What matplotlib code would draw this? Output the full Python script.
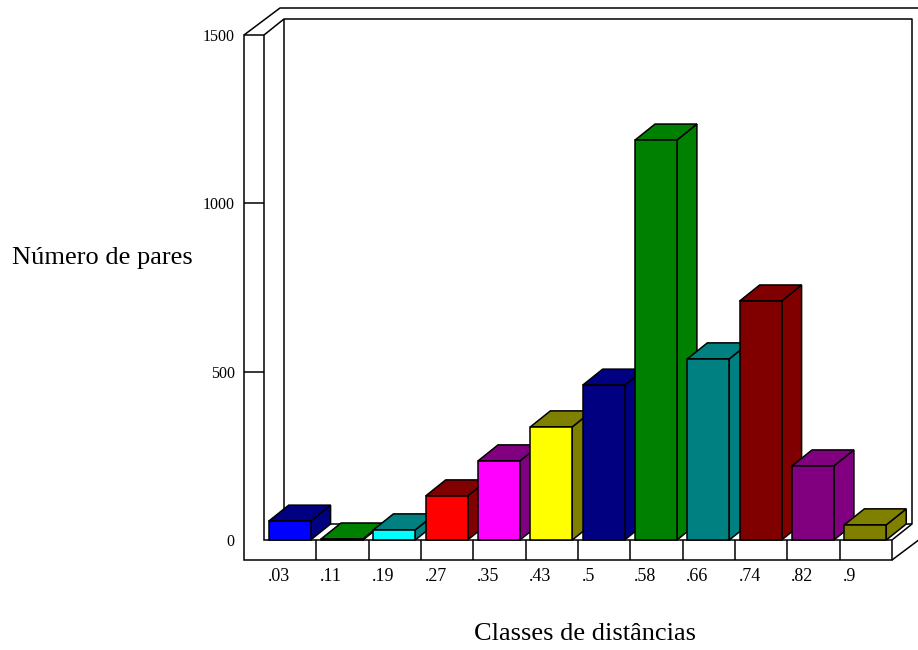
import numpy as np
import matplotlib.pyplot as plt
from matplotlib.patches import Polygon, Rectangle

# distance classes and number of pairs in each
classes = ['.03', '.11', '.19', '.27', '.35', '.43', '.5', '.58', '.66', '.74', '.82', '.9']
pairs = [56, 3, 30, 131, 235, 336, 460, 1188, 538, 710, 220, 45]

# front face colour and shaded (top / side) colour of every bar
front_colors = ['#0000ff', '#00ff00', '#00ffff', '#ff0000', '#ff00ff', '#ffff00',
                '#000080', '#008000', '#008080', '#800000', '#800080', '#808000']
shade_colors = ['#000080', '#008000', '#008080', '#800000', '#800080', '#808000',
                '#000080', '#008000', '#008080', '#800000', '#800080', '#808000']

y_ticks = [0, 500, 1000, 1500]
y_labels = ['0', '500', '1000', '1500']

serif = 'Liberation Serif'

W, H = 918, 650
fig = plt.figure(figsize=(W / 100, H / 100), dpi=100)
ax = fig.add_axes([264 / W, 110 / H, 628 / W, 505 / H])
n = len(classes)
ymax = 1500
ax.set_xlim(0, n)
ax.set_ylim(0, ymax)
for s in ax.spines.values():
    s.set_visible(False)

# pixel sizes of the fake 3d box, turned into data units
px_x = n / 628.0
px_y = ymax / 505.0
DX, DY = 20 * px_x, 16 * px_y      # depth of the bars / inner box
OX, OY = 36 * px_x, 27 * px_y      # depth of the outer shell
WX = 20 * px_x                     # left wall thickness
FY = 20 * px_y                     # floor thickness

lw = 1.1
kw = dict(color='black', lw=lw, clip_on=False, solid_capstyle='butt')

# back of the box
ax.plot([0, DX, n + DX, n + DX, n], [ymax, ymax + DY, ymax + DY, DY, 0], zorder=1, **kw)
ax.plot([DX, DX, n + DX], [ymax + DY, DY, DY], zorder=1, **kw)
ax.plot([-WX, -WX + OX, n + 2], [ymax, ymax + OY, ymax + OY], zorder=1, **kw)
ax.plot([n, n + OX], [-FY, -FY + OY], zorder=1, **kw)

# front of the left wall and the floor strip
front = Polygon([(-WX, -FY), (n, -FY), (n, 0), (0, 0), (0, ymax), (-WX, ymax)],
                closed=True, facecolor='white', edgecolor='black', lw=lw,
                clip_on=False, zorder=2)
ax.add_patch(front)
for i in range(1, n):
    ax.plot([i, i], [-FY, 0], zorder=2, **kw)
for t in y_ticks[1:-1]:
    ax.plot([-WX, 0], [t, t], zorder=2, **kw)

# bars, drawn left to right so each one hides the side of the previous
bw = 0.8
for i, (h, fc, sc) in enumerate(zip(pairs, front_colors, shade_colors)):
    x0 = i + 0.09
    x1 = x0 + bw
    z = 3 + i * 0.1
    side = Polygon([(x1, 0), (x1, h), (x1 + DX, h + DY), (x1 + DX, DY)],
                   closed=True, facecolor=sc, edgecolor='black', lw=lw,
                   clip_on=False, zorder=z)
    top = Polygon([(x0, h), (x1, h), (x1 + DX, h + DY), (x0 + DX, h + DY)],
                  closed=True, facecolor=sc, edgecolor='black', lw=lw,
                  clip_on=False, zorder=z)
    face = Rectangle((x0, 0), bw, h, facecolor=fc, edgecolor='black', lw=lw,
                     clip_on=False, zorder=z)
    ax.add_patch(side)
    ax.add_patch(top)
    ax.add_patch(face)

ax.set_yticks(y_ticks)
ax.set_yticklabels(y_labels, fontfamily=serif, fontsize=11.5)
ax.set_xticks(np.arange(n) + 0.07)
ax.set_xticklabels(classes, fontfamily=serif, fontsize=13, ha='left')
ax.tick_params(axis='y', length=0, pad=21)
ax.tick_params(axis='x', length=0, pad=20)

fig.text(102 / W, 1 - 258 / H, 'Número de pares', ha='center', va='center',
         fontsize=19, fontfamily=serif)
fig.text(585 / W, 1 - 634 / H, 'Classes de distâncias', ha='center', va='center',
         fontsize=19, fontfamily=serif)

fig.savefig('out.png', dpi=100, facecolor='white')
